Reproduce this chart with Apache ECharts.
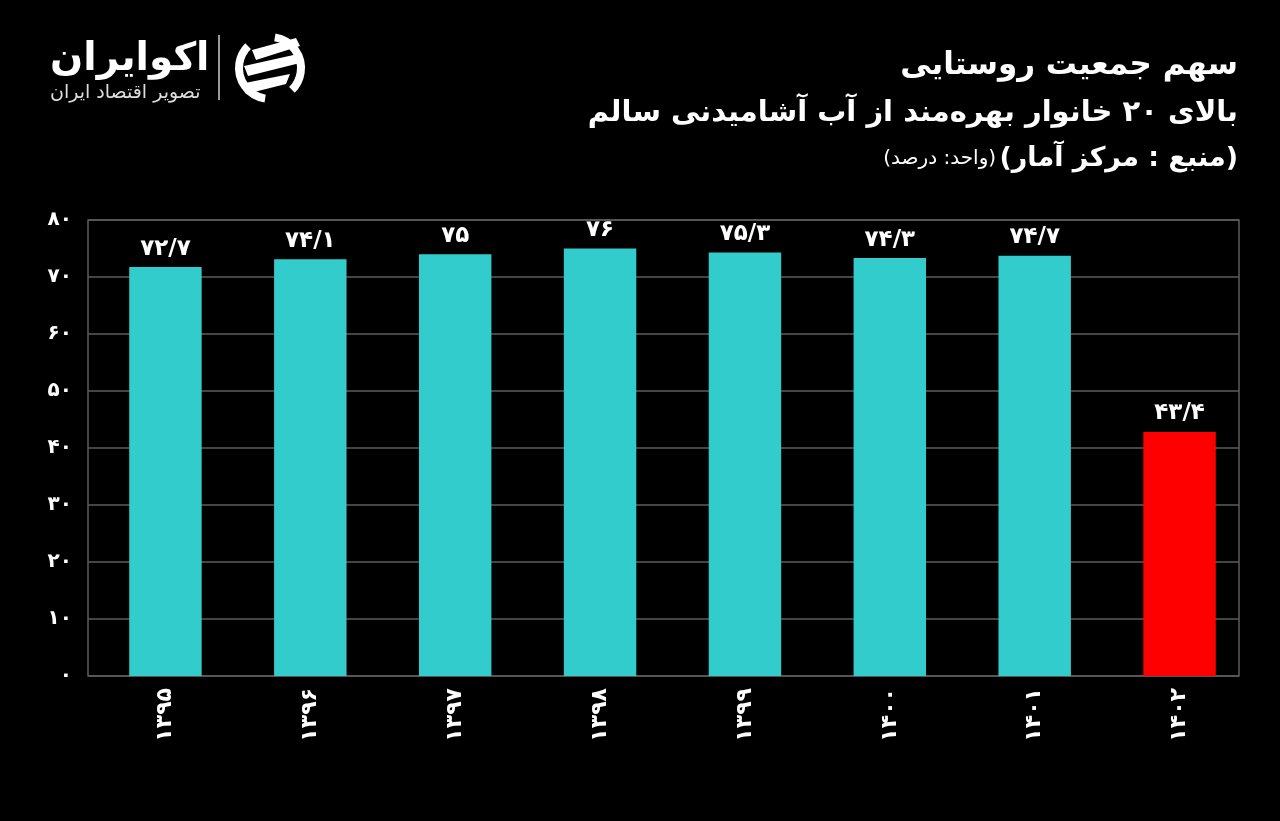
<!DOCTYPE html>
<html dir="rtl">
<head>
<meta charset="utf-8">
<script src="https://cdn.jsdelivr.net/npm/echarts@6/dist/echarts.min.js"></script>
<style>
    html, body { margin: 0; padding: 0; background: #000; }
    #chart { width: 1280px; height: 821px; }
</style>
</head>
<body>
<div id="chart"></div>
<script>
// سال‌ها و سهم جمعیت (درصد)
const years = ['1395', '1396', '1397', '1398', '1399', '1400', '1401', '1402'];
const shares = [72.7, 74.1, 75, 76, 75.3, 74.3, 74.7, 43.4];
const barColors = ['#33cccc', '#33cccc', '#33cccc', '#33cccc', '#33cccc', '#33cccc', '#33cccc', '#ff0000'];
const yTicks = [0, 80, 10]; // min, max, interval

const titleLine1 = 'سهم جمعیت روستایی';
const titleLine2 = 'بالای ۲۰ خانوار بهره‌مند از آب آشامیدنی سالم';
const sourceText = '(منبع : مرکز آمار)';
const unitText = '(واحد: درصد)';

const font = 'DejaVu Sans';

function toFa(v) {
    // ارقام فارسی و ممیز به شکل /
    return String(v).replace(/\d/g, d => '۰۱۲۳۴۵۶۷۸۹'[d]).replace('.', '/');
}

var myChart = echarts.init(document.getElementById('chart'), null, { renderer: 'canvas' });

var option = {
    backgroundColor: '#000',
    animation: false,
    textStyle: { fontFamily: font },
    grid: [
        // قاب و خطوط راهنما
        { left: 88, right: 41, top: 220, bottom: 145, show: true, borderColor: '#5c5c5c', borderWidth: 1.5 },
        // میله‌ها
        { left: 93, right: 28, top: 226, bottom: 145 }
    ],
    xAxis: [
        { gridIndex: 0, type: 'category', data: years, show: false },
        {
            gridIndex: 1,
            type: 'category',
            data: years,
            axisLine: { show: false },
            axisTick: { show: false },
            axisLabel: {
                rotate: 90,
                margin: 12,
                color: '#fff',
                fontSize: 22,
                fontWeight: 'bold',
                fontFamily: font,
                formatter: toFa
            }
        }
    ],
    yAxis: [
        {
            gridIndex: 0,
            type: 'value',
            min: yTicks[0],
            max: yTicks[1],
            interval: yTicks[2],
            axisLine: { show: false },
            axisTick: { show: false },
            splitLine: { lineStyle: { color: '#5c5c5c', width: 1.5 } },
            axisLabel: {
                margin: 16,
                color: '#fff',
                fontSize: 20,
                fontWeight: 'bold',
                fontFamily: font,
                formatter: toFa
            }
        },
        { gridIndex: 1, type: 'value', min: yTicks[0], max: yTicks[1], show: false }
    ],
    series: [
        {
            type: 'bar',
            xAxisIndex: 1,
            yAxisIndex: 1,
            barWidth: '50%',
            data: shares.map((v, i) => ({ value: v, itemStyle: { color: barColors[i] } })),
            label: {
                show: true,
                position: 'top',
                distance: 7,
                color: '#fff',
                fontSize: 23,
                fontWeight: 'bold',
                fontFamily: font,
                formatter: p => toFa(p.value)
            }
        }
    ],
    graphic: [
        // عنوان
        {
            type: 'text', right: 42, top: 50,
            style: { text: titleLine1, fill: '#fff', font: 'bold 31px "' + font + '"', textAlign: 'right' }
        },
        {
            type: 'text', right: 42, top: 99,
            style: { text: titleLine2, fill: '#fff', font: 'bold 29px "' + font + '"', textAlign: 'right' }
        },
        {
            type: 'text', right: 42, top: 145,
            style: {
                text: '{u|' + unitText + '} {s|' + sourceText + '}',
                textAlign: 'right',
                rich: {
                    s: { fill: '#fff', fontSize: 27, fontWeight: 'bold', fontFamily: font },
                    u: { fill: '#fff', fontSize: 20, fontFamily: font }
                }
            }
        },
        // لوگو
        {
            type: 'text', left: 50, top: 40,
            style: { text: 'اکوایران', fill: '#fff', font: 'bold 39px "' + font + '"' }
        },
        {
            type: 'text', left: 50, top: 84,
            style: { text: 'تصویر اقتصاد ایران', fill: '#ddd', font: '19px "' + font + '"' }
        },
        {
            type: 'line',
            shape: { x1: 219, y1: 35, x2: 219, y2: 100 },
            style: { stroke: '#ccc', lineWidth: 1.5 }
        },
        {
            type: 'group',
            children: [
                { type: 'arc', shape: { cx: 270, cy: 68, r: 31, startAngle: Math.PI * 0.55, endAngle: Math.PI * 1.25 }, style: { stroke: '#fff', lineWidth: 8, fill: null } },
                { type: 'arc', shape: { cx: 270, cy: 68, r: 31, startAngle: -Math.PI * 0.45, endAngle: Math.PI * 0.25 }, style: { stroke: '#fff', lineWidth: 8, fill: null } },
                { type: 'polygon', shape: { points: [[252, 50], [296, 38], [300, 46], [256, 60]] }, style: { fill: '#fff' } },
                { type: 'polygon', shape: { points: [[244, 66], [298, 54], [300, 63], [248, 76]] }, style: { fill: '#fff' } },
                { type: 'polygon', shape: { points: [[240, 84], [290, 74], [286, 84], [246, 94]] }, style: { fill: '#fff' } }
            ]
        }
    ]
};

myChart.setOption(option);
window.onresize = function () {
    myChart.resize();
};
</script>
</body>
</html>
